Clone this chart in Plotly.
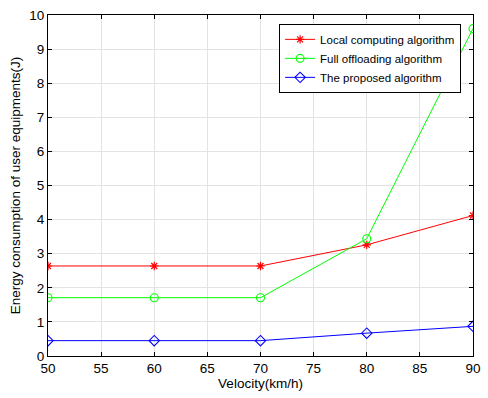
import plotly.graph_objects as go

velocity = [50, 60, 70, 80, 90]
local_energy = [2.64, 2.64, 2.64, 3.26, 4.12]
full_energy = [1.71, 1.71, 1.71, 3.44, 9.60]
proposed_energy = [0.45, 0.45, 0.45, 0.67, 0.87]

x_ticks = [50, 55, 60, 65, 70, 75, 80, 85, 90]
y_ticks = list(range(0, 11))

font = "Liberation Sans, Arial, Helvetica, sans-serif"

fig = go.Figure()
fig.add_trace(go.Scatter(x=velocity, y=local_energy, mode="lines+markers",
                         name="Local computing algorithm",
                         line=dict(color="#FF0000", width=1),
                         marker=dict(symbol="asterisk-open", size=7, color="#FF0000",
                                     line=dict(color="#FF0000", width=1.2))))
fig.add_trace(go.Scatter(x=velocity, y=full_energy, mode="lines+markers",
                         name="Full offloading algorithm",
                         line=dict(color="#00FF00", width=1),
                         marker=dict(symbol="circle-open", size=8, color="#00FF00",
                                     line=dict(color="#00FF00", width=1.1))))
fig.add_trace(go.Scatter(x=velocity, y=proposed_energy, mode="lines+markers",
                         name="The proposed algorithm",
                         line=dict(color="#0000FF", width=1),
                         marker=dict(symbol="diamond-open", size=8, color="#0000FF",
                                     line=dict(color="#0000FF", width=1.1))))

axis_common = dict(showline=True, linecolor="black", linewidth=1, mirror="ticks",
                   ticks="inside", ticklen=4, tickcolor="black",
                   showgrid=True, gridcolor="#E3E3E3", gridwidth=1, zeroline=False,
                   ticklabeloverflow="allow",
                   tickfont=dict(family=font, size=13.5, color="black"))

fig.update_layout(
    width=488, height=398,
    margin=dict(l=48, r=7, t=15, b=42),
    paper_bgcolor="white", plot_bgcolor="white",
    font=dict(family=font, size=13.5, color="black"),
    xaxis=dict(range=[50, 90], tickvals=x_ticks,
               title=dict(text="Velocity(km/h)", font=dict(family=font, size=13.5), standoff=3),
               **axis_common),
    yaxis=dict(range=[0, 10], tickvals=y_ticks,
               title=dict(text="Energy consumption of user equipments(J)", font=dict(family=font, size=13.5), standoff=5),
               **axis_common),
    legend=dict(x=0.972, y=0.974, xanchor="right", yanchor="top",
                bgcolor="white", bordercolor="black", borderwidth=1,
                font=dict(family=font, size=11.5, color="black"),
                tracegroupgap=0, itemwidth=30),
    showlegend=True,
)

fig.write_html("out.html")
